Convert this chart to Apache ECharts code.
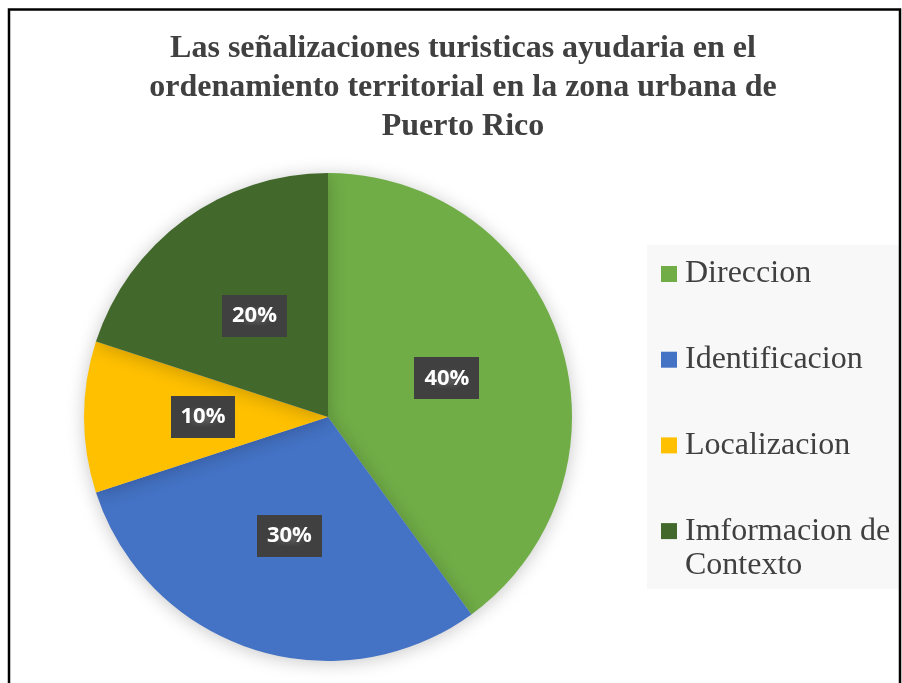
<!DOCTYPE html>
<html>
    <head>
        <meta charset="utf-8">
        <title>Señalizaciones turisticas</title>
        <script src="https://cdn.jsdelivr.net/npm/echarts@6/dist/echarts.min.js"></script>
        <style>
            html, body { margin: 0; padding: 0; background: #fff; }
            #chart1 { width: 902px; height: 683px; }
        </style>
    </head>
    <body>
        <div id="chart1"></div>
        <script type="text/javascript">
            // datos del grafico
            var categorias = ['Direccion', 'Identificacion', 'Localizacion', 'Imformacion de Contexto'];
            var valores = [40, 30, 10, 20];
            var colores = ['#70AD47', '#4472C4', '#FFC000', '#43682B'];

            // fondo punteado de las etiquetas
            function patron() {
                var c = document.createElement('canvas');
                c.width = 6; c.height = 6;
                var ctx = c.getContext('2d');
                ctx.fillStyle = '#404040';
                ctx.fillRect(0, 0, 6, 6);
                ctx.fillStyle = '#575757';
                ctx.fillRect(2, 2, 2, 2);
                return c;
            }

            var fuenteLeyenda = { fontFamily: 'Liberation Serif', fontSize: 32, color: '#404040' };

            var myChart = echarts.init(document.getElementById('chart1'));
            var option = {
                backgroundColor: '#fff',
                color: colores,
                title: {
                    text: 'Las señalizaciones turisticas ayudaria en el\nordenamiento territorial en la zona urbana de\nPuerto Rico',
                    left: 458,
                    top: 24,
                    textAlign: 'center',
                    textStyle: {
                        fontFamily: 'Liberation Serif',
                        fontWeight: 'bold',
                        fontSize: 32,
                        lineHeight: 39,
                        color: '#404040'
                    }
                },
                graphic: [
                    {
                        type: 'rect',
                        shape: { x: 9, y: 9.5, width: 891, height: 720 },
                        style: { fill: null, stroke: '#000', lineWidth: 2.5 },
                        z: 100
                    },
                    {
                        type: 'rect',
                        shape: { x: 647, y: 245, width: 254, height: 344 },
                        style: { fill: '#F8F8F8' },
                        z: 0
                    },
                    {
                        // segunda linea de la ultima entrada de la leyenda
                        type: 'text',
                        x: 685,
                        y: 566,
                        style: {
                            text: 'Contexto',
                            font: '32px "Liberation Serif"',
                            fill: '#404040',
                            verticalAlign: 'middle'
                        },
                        z: 5
                    }
                ],
                legend: {
                    orient: 'vertical',
                    left: 656,
                    top: 251,
                    icon: 'rect',
                    itemWidth: 16,
                    itemHeight: 16,
                    itemGap: 49.7,
                    padding: 5,
                    formatter: function (name) {
                        return name === 'Imformacion de Contexto' ? 'Imformacion de' : name;
                    },
                    textStyle: {
                        fontFamily: fuenteLeyenda.fontFamily,
                        fontSize: fuenteLeyenda.fontSize,
                        lineHeight: 36,
                        color: fuenteLeyenda.color,
                        padding: [0, 0, 0, 3]
                    },
                    data: categorias
                },
                series: [{
                    type: 'pie',
                    center: [328, 417],
                    radius: 244,
                    startAngle: 90,
                    clockwise: true,
                    silent: true,
                    data: categorias.map(function (n, i) {
                        return { name: n, value: valores[i] };
                    }),
                    itemStyle: {
                        shadowBlur: 18,
                        shadowColor: 'rgba(0,0,0,0.22)',
                        shadowOffsetX: 0,
                        shadowOffsetY: 2
                    },
                    label: {
                        show: true,
                        position: 'inside',
                        formatter: '{c}%',
                        fontFamily: 'Open Sans',
                        fontWeight: 'bold',
                        fontSize: 22,
                        lineHeight: 24,
                        color: '#fff',
                        backgroundColor: { image: patron(), repeat: 'repeat' },
                        padding: [9, 10, 9, 10],
                        shadowColor: 'rgba(0,0,0,0.45)',
                        shadowBlur: 6,
                        shadowOffsetX: 3,
                        shadowOffsetY: 3
                    },
                    labelLine: { show: false }
                }]
            };
            myChart.setOption(option);
        </script>
    </body>
</html>
